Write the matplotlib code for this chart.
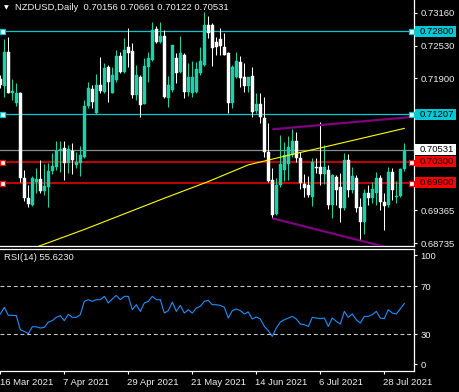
import matplotlib
matplotlib.use("Agg")
import matplotlib.pyplot as plt
import matplotlib.transforms as mtransforms
from matplotlib.patches import Rectangle
import pandas as pd
import numpy as np

plt.rcParams['font.family'] = ['Liberation Sans', 'DejaVu Sans']

# ---------------- data ----------------
dates = pd.bdate_range('2021-03-16', '2021-08-04')

opens = [0.71888, 0.71754, 0.72412, 0.71614, 0.71422, 0.71614, 0.69982, 0.69610, 0.69470, 0.69917,
         0.69963, 0.69744, 0.69821, 0.70123, 0.70205, 0.70506, 0.70558, 0.70270, 0.70506, 0.70238,
         0.70282, 0.70397, 0.71370, 0.71690, 0.71230, 0.71773, 0.71644, 0.72124, 0.71625, 0.71869,
         0.72329, 0.72028, 0.72496, 0.72431, 0.71581, 0.71932, 0.71408, 0.72124, 0.72253, 0.72842,
         0.72604, 0.72713, 0.71518, 0.71677, 0.72285, 0.72028, 0.72349, 0.71644, 0.71625, 0.71644,
         0.72009, 0.72157, 0.72924, 0.72924, 0.72604, 0.72650, 0.72508, 0.72381, 0.71433, 0.71921,
         0.72220, 0.71921, 0.71754, 0.71946, 0.71280, 0.71408, 0.71134, 0.70493, 0.69950, 0.69297,
         0.69854, 0.70142, 0.70257, 0.70430, 0.70704, 0.70366, 0.69873, 0.69854, 0.69629, 0.70205,
         0.70193, 0.70065, 0.70142, 0.69470, 0.70002, 0.69810, 0.69407, 0.70334, 0.69758, 0.69982,
         0.69437, 0.69150, 0.69706, 0.69599, 0.69706, 0.69982, 0.69533, 0.69470, 0.70109, 0.69618,
         0.69643, 0.70156]
highs = [0.71965, 0.72650, 0.72700, 0.71888, 0.71805, 0.71644, 0.70142, 0.69854, 0.70027, 0.70174,
         0.70334, 0.70257, 0.70282, 0.70474, 0.70698, 0.70698, 0.70698, 0.70621, 0.70666, 0.70493,
         0.70602, 0.71485, 0.71836, 0.71773, 0.71984, 0.72304, 0.72189, 0.72157, 0.72124, 0.72444,
         0.72412, 0.72669, 0.72861, 0.72573, 0.72157, 0.71965, 0.72285, 0.72412, 0.72988, 0.72905,
         0.72988, 0.72828, 0.71946, 0.72540, 0.72381, 0.72713, 0.72380, 0.72189, 0.72239, 0.72220,
         0.72496, 0.73179, 0.73097, 0.72968, 0.72700, 0.72861, 0.72765, 0.72412, 0.72157, 0.72412,
         0.72329, 0.72189, 0.71932, 0.72124, 0.71614, 0.71614, 0.71537, 0.71038, 0.70174, 0.69982,
         0.70813, 0.70685, 0.70794, 0.70923, 0.70877, 0.70493, 0.70065, 0.70027, 0.70366, 0.70366,
         0.71069, 0.70621, 0.70238, 0.70065, 0.70046, 0.70078, 0.70462, 0.70449, 0.70205, 0.70046,
         0.69599, 0.69771, 0.69854, 0.69917, 0.70109, 0.70046, 0.69695, 0.70193, 0.70174, 0.69936,
         0.70174, 0.70661]
lows = [0.71715, 0.71537, 0.71614, 0.71485, 0.71370, 0.69917, 0.69553, 0.69426, 0.69457, 0.69706,
        0.69706, 0.69662, 0.69437, 0.70059, 0.70142, 0.70100, 0.69950, 0.70078, 0.70065, 0.70180,
        0.70027, 0.70372, 0.71326, 0.71326, 0.71216, 0.71625, 0.71614, 0.71452, 0.71614, 0.71836,
        0.72009, 0.72009, 0.72124, 0.71518, 0.71485, 0.71153, 0.71399, 0.71836, 0.72233, 0.72573,
        0.72573, 0.71518, 0.71345, 0.71644, 0.71805, 0.71997, 0.71518, 0.71562, 0.71537, 0.71614,
        0.71965, 0.72137, 0.72669, 0.72137, 0.72349, 0.72349, 0.72349, 0.71230, 0.71326, 0.71901,
        0.71729, 0.71644, 0.71644, 0.71153, 0.71230, 0.71049, 0.70397, 0.69917, 0.69215, 0.69278,
        0.69821, 0.69936, 0.69950, 0.70397, 0.70301, 0.69771, 0.69629, 0.69618, 0.69451, 0.70090,
        0.69854, 0.69873, 0.69393, 0.69215, 0.69470, 0.69150, 0.69374, 0.69629, 0.69695, 0.69341,
        0.68798, 0.68914, 0.69470, 0.69503, 0.69470, 0.69374, 0.68990, 0.69437, 0.69566, 0.69514,
        0.69629, 0.70122]
closes = [0.71767, 0.72412, 0.71625, 0.71663, 0.71614, 0.69982, 0.69599, 0.69483, 0.69982, 0.69963,
          0.69744, 0.69835, 0.70123, 0.70218, 0.70506, 0.70539, 0.70270, 0.70539, 0.70334, 0.70301,
          0.70430, 0.71370, 0.71710, 0.71452, 0.71773, 0.71663, 0.72093, 0.71836, 0.71965, 0.72329,
          0.72028, 0.72444, 0.72393, 0.71581, 0.71965, 0.71389, 0.72137, 0.72285, 0.72828, 0.72604,
          0.72713, 0.71548, 0.71773, 0.72540, 0.71997, 0.72381, 0.71644, 0.71921, 0.71921, 0.72074,
          0.72239, 0.72924, 0.72765, 0.72477, 0.72508, 0.72521, 0.72349, 0.71433, 0.72124, 0.72233,
          0.71901, 0.71754, 0.71921, 0.71260, 0.71408, 0.71165, 0.70493, 0.69936, 0.69278, 0.69854,
          0.70257, 0.70430, 0.70577, 0.70704, 0.70366, 0.69886, 0.69791, 0.69662, 0.70301, 0.70174,
          0.70065, 0.70193, 0.69470, 0.70046, 0.69758, 0.69407, 0.70334, 0.69758, 0.70027, 0.69407,
          0.69150, 0.69706, 0.69599, 0.69771, 0.69982, 0.69533, 0.69451, 0.70109, 0.69758, 0.69643,
          0.70155, 0.70531]

rsi = [46.8, 52.4, 45.7, 45.7, 45.4, 33.6, 32.2, 30.3, 36.1, 36.1,
       35.0, 35.6, 40.0, 41.2, 44.0, 45.4, 41.2, 46.5, 44.0, 44.0,
       46.2, 57.4, 58.8, 57.4, 58.8, 58.8, 61.6, 56.0, 59.4, 62.4,
       58.8, 61.6, 61.6, 50.4, 54.6, 49.0, 56.0, 57.4, 61.6, 58.8,
       58.8, 47.6, 49.6, 56.8, 49.0, 54.0, 47.6, 50.4, 47.6, 51.8,
       53.2, 57.4, 58.2, 54.6, 54.6, 54.0, 52.4, 43.4, 49.6, 51.0,
       49.6, 46.8, 48.5, 42.6, 44.3, 42.6, 36.4, 32.8, 28.0, 35.0,
       40.0, 42.0, 43.4, 44.8, 42.6, 38.4, 37.8, 36.4, 44.0, 43.4,
       42.9, 43.4, 36.4, 43.4, 40.6, 38.4, 49.0, 44.0, 46.8, 42.0,
       39.2, 44.8, 44.8, 46.2, 49.0, 43.4, 42.9, 50.4, 47.6, 46.8,
       51.2, 55.6]

# 200-period moving average, read at a few bars
ma_bars = [0, 10, 21, 41, 52, 57, 62, 74, 82, 101]
ma_vals = [0.6840, 0.6869, 0.6900, 0.6960, 0.6992, 0.7008, 0.7024, 0.7046, 0.7060, 0.7094]

# channel trend lines (bar index, price)
upper_tl = [(68, 0.70922), (103, 0.71160)]
lower_tl = [(68, 0.69215), (95, 0.68690)]

cyan_levels = [0.72800, 0.71207]
red_levels = [0.70300, 0.69900]
bid = 0.70531

price_ticks = [0.73160, 0.72530, 0.71900, 0.69365, 0.68735]
xtick_labels = ['16 Mar 2021', '7 Apr 2021', '29 Apr 2021', '21 May 2021',
                '14 Jun 2021', '6 Jul 2021', '28 Jul 2021']
title = 'NZDUSD,Daily'
ohlc_text = '0.70156 0.70661 0.70122 0.70531'
rsi_title = 'RSI(14) 55.6230'

# ---------------- style ----------------
W, H = 460, 392
BG = 'black'
GREEN = '#1cd3a6'
CYAN = '#00c8d4'
RED = '#ff0000'
PURPLE = '#800080'
TXT = '#f0f0f0'
FS = 6.8

fig = plt.figure(figsize=(W / 100, H / 100), dpi=100, facecolor=BG)
main_top, main_bot = 0, 246
rsi_top, rsi_bot = 249, 371
right_px = 414
ax = fig.add_axes([0, 1 - main_bot / H, right_px / W, (main_bot - main_top) / H], facecolor=BG)
axr = fig.add_axes([0, 1 - rsi_bot / H, right_px / W, (rsi_bot - rsi_top) / H], facecolor=BG)

x = np.arange(len(opens))
px_per_bar = 4.0
xlim = (-0.3 / px_per_bar, (right_px - 0.3) / px_per_bar)

# candles
o = np.array(opens); c = np.array(closes); h = np.array(highs); l = np.array(lows)
up = c >= o
cols = np.where(up, GREEN, 'white')
ax.vlines(x, l, h, colors=cols, linewidth=0.75, zorder=3)
bottoms = np.minimum(o, c)
heights = np.maximum(np.abs(c - o), 0.00004)
ax.bar(x, heights, bottom=bottoms, width=0.72, color=cols, edgecolor=cols,
       linewidth=0.3, zorder=4)

# horizontal levels
for lv in cyan_levels:
    ax.axhline(lv, color=CYAN, lw=0.9, zorder=2)
for lv in red_levels:
    ax.axhline(lv, color=RED, lw=1.1, zorder=2)
ax.axhline(bid, color='#8c8c8c', lw=0.9, zorder=2)

# moving average
ax.plot(ma_bars, ma_vals, color='#ffff00', lw=0.8, zorder=5)

# trend channel (rays to the right)
for (xa, ya), (xb, yb) in (upper_tl, lower_tl):
    slope = (yb - ya) / (xb - xa)
    xe = xlim[1] + 1
    ax.plot([xa, xe], [ya, ya + slope * (xe - xa)], color=PURPLE, lw=1.6,
            zorder=6, solid_capstyle='butt')

ax.set_xlim(*xlim)
pmax = 0.73404
pmin = 0.68683
ax.set_ylim(pmin, pmax)

# handles on the horizontal lines
btr = mtransforms.blended_transform_factory(ax.transAxes, ax.transData)
for lv, col in [(v, CYAN) for v in cyan_levels] + [(v, RED) for v in red_levels]:
    for xf in (2.5 / right_px, 411.3 / right_px):
        ax.plot([xf], [lv], marker='s', ms=3.6, mfc='white', mec=col, mew=0.9,
                transform=btr, clip_on=False, zorder=8)

# axes styling
for a in (ax, axr):
    for s in ('left', 'top'):
        a.spines[s].set_visible(False)
    for s in ('right', 'bottom'):
        a.spines[s].set_color('white')
        a.spines[s].set_linewidth(0.9)
axr.spines['top'].set_visible(True)
axr.spines['top'].set_color('white')
axr.spines['top'].set_linewidth(0.9)

ax.yaxis.tick_right()
ax.set_yticks(price_ticks)
ax.set_yticklabels([f'{v:.5f}' for v in price_ticks])
ax.tick_params(axis='y', colors='white', length=2.5, width=0.8, pad=2.0,
               labelsize=FS, labelcolor=TXT)
ax.set_xticks([])

# price boxes on the right axis
px_d = (pmax - pmin) / (main_bot - main_top)
box_h = 10.5 * px_d
bx0 = 415.5 / right_px
bw = 41 / right_px
boxes = [(cyan_levels[0], CYAN, 'black'), (cyan_levels[1], CYAN, 'black'),
         (bid, 'white', 'black'), (red_levels[0], RED, 'black'), (red_levels[1], RED, 'black')]
for lv, fc, tc in boxes:
    ax.add_patch(Rectangle((bx0, lv - box_h / 2), bw, box_h, transform=btr,
                           facecolor=fc, edgecolor='none', clip_on=False, zorder=9))
    ax.text(419.5 / right_px, lv, f'{lv:.5f}', transform=btr, ha='left', va='center',
            fontsize=FS, color=tc, zorder=10, clip_on=False)

# titles
fig.text(4 / W, 1 - 7.8 / H, '\u25bc', fontsize=4.5, color='white', va='center', ha='left',
         family='DejaVu Sans')
fig.text(15 / W, 1 - 7.8 / H, title + '  ' + ohlc_text, fontsize=FS, color=TXT,
         va='center', ha='left')

# RSI panel
axr.plot(x, rsi, color='#1e90ff', lw=0.8)
for lv in (70, 30):
    axr.axhline(lv, color='#c8c8c8', lw=0.8, dashes=(3.5, 2.5))
axr.set_xlim(*xlim)
axr.set_ylim(-1.0, 101.3)
axr.yaxis.tick_right()
rsi_tick_pos = [4.8, 30, 70, 96.2]
axr.set_yticks(rsi_tick_pos)
axr.set_yticklabels(['0', '30', '70', '100'])
axr.tick_params(axis='y', colors='white', length=2.5, width=0.8, pad=2.0,
                labelsize=FS, labelcolor=TXT)
axr.text(4 / right_px, 1 - 9 / (rsi_bot - rsi_top), rsi_title, transform=axr.transAxes,
         fontsize=FS, color=TXT, va='center', ha='left')

# date ticks
tick_idx = [int(dates.get_loc(pd.Timestamp(lbl))) for lbl in xtick_labels]
axr.set_xticks(tick_idx)
axr.set_xticklabels([])
axr.tick_params(axis='x', colors='white', length=2.5, width=0.8)
for ti, lbl in zip(tick_idx, xtick_labels):
    axr.text(ti - 0.2, -0.06, lbl, transform=mtransforms.blended_transform_factory(
        axr.transData, axr.transAxes), fontsize=FS, color=TXT, ha='left', va='top',
        clip_on=False)

fig.savefig('out.png', dpi=100, facecolor=BG)
